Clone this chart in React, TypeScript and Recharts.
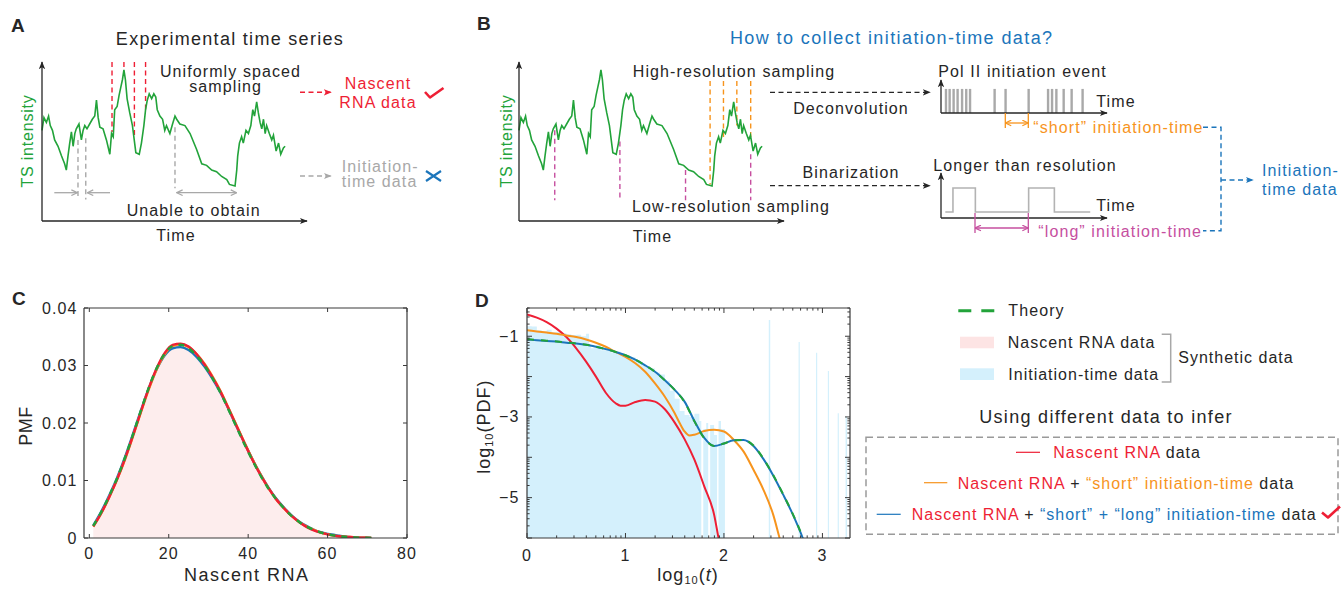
import React from 'react';
import { ComposedChart, LineChart, Line, Area, XAxis, YAxis, ReferenceLine } from 'recharts';

const FONT = '"Liberation Sans", Arial, Helvetica, sans-serif';
const INK = '#262626';
const FRAME = '#3a3a3a';
const RED = '#ee1f35';
const ORANGE = '#f7941d';
const BLUE = '#1b75bb';
const GREEN = '#22a33a';
const MAGENTA = '#c64f9f';
const GRAY = '#a8a8a8';
const SKY = '#d4f0fc';
const PINK = '#fdeded';

// ---- A / B : TS intensity trace ----
const tsTime = [0, 0.8, 1.8, 2.7, 3.4, 4.3, 5.2, 6.6, 8.0, 9.3, 10.0, 10.7, 11.4, 12.1, 12.8, 13.5, 14.1, 15.2, 16.2, 16.9,
  17.6, 18.5, 19.6, 20.7, 21.7, 22.4, 23.1, 23.8, 25.1, 26.5, 27.9, 28.6, 29.3, 29.9, 30.9, 31.7, 32.4, 33.1, 33.7, 34.3,
  35.0, 36.1, 37.2, 38.6, 40.0, 40.9, 41.9, 42.6, 43.3, 44.1, 45.1, 46.0, 46.8, 47.4, 48.5, 49.6, 50.5, 51.2, 52.6, 53.7,
  54.7, 55.4, 56.7, 58.8, 60.9, 63.6, 65.7, 67.7, 69.8, 71.8, 73.9, 76.0, 77.1, 79.4, 80.1, 80.5, 81.2, 82.1, 82.8, 83.9,
  84.9, 85.9, 86.7, 87.4, 88.3, 89.0, 89.7, 90.4, 91.1, 91.8, 92.4, 93.5, 94.5, 95.2, 96.3, 97.3, 98.2, 99.3, 100];
const tsIntensity = [57, 65, 62, 66, 60, 57, 51, 47, 41, 36, 32, 41, 49, 56, 47, 55, 58, 61, 51, 57,
  60, 58, 61, 64, 66, 76, 65, 59, 58, 51, 42, 55, 53, 70, 72, 79, 84, 89, 95, 89,
  77, 68, 60, 43, 42, 49, 60, 70, 76, 80, 77, 80, 78, 70, 66, 64, 57, 60, 55, 61,
  66, 64, 61, 60, 55, 45, 36, 35, 32, 31, 28, 26, 23, 22, 32, 41, 49, 53, 49, 57,
  55, 60, 70, 66, 75, 68, 62, 58, 64, 55, 60, 55, 51, 54, 44, 49, 42, 46, 47];

const sampleTimesA = [28.8, 33.7, 38.0, 42.6];
const sampleLevelsA = [56, 95, 52, 70];
const gapTimesA = [14.8, 18.0, 54.7];
const gapTopsA = [51, 52, 59];
const gapBottomsA = [13.6, 13.6, 20.6];
const highResTimesB = [78.6, 84.1, 89.6, 95.3];
const highResLevelsB = [23, 52, 60, 51];
const lowResTimesB = [14.7, 41.5, 68.5, 95.3];
const lowResLevelsB = [57, 50, 32, 42];

const polIIEvents = [3.0, 5.2, 7.6, 10.0, 12.7, 15.2, 17.5, 32.3, 38.9, 52.8, 64.5, 66.9, 69.5, 73.9, 78.7, 85.3];
const waveTime = [2.6, 7.2, 20.7, 52.8, 68.3, 89.9];
const waveLevel = [1, 5, 1, 5, 1, 1];

// ---- C : PMF of nascent RNA ----
const nascentCount = [1, 3, 5, 7, 9, 11, 13, 15, 17, 19, 21, 23, 25, 27, 29, 31, 33, 35, 37, 39, 41, 43, 45, 47, 49, 51,
  53, 55, 57, 59, 61, 63, 65, 67, 69, 71];
const pmfTheory = [0.0021, 0.0045, 0.0073, 0.0104, 0.014, 0.018, 0.0222, 0.0262, 0.0296, 0.0321, 0.0334, 0.0336, 0.033,
  0.0317, 0.03, 0.0278, 0.0253, 0.0224, 0.0194, 0.0164, 0.0136, 0.011, 0.0087, 0.0068, 0.0052, 0.0038, 0.0027, 0.0019,
  0.0013, 0.0008, 0.0005, 0.0003, 0.0002, 0.0001, 0.00005, 0.00002];
const pmfSynthetic = [0.0022, 0.0046, 0.0074, 0.0105, 0.0141, 0.0181, 0.0223, 0.0263, 0.0297, 0.0322, 0.0335, 0.0337,
  0.0331, 0.0318, 0.0301, 0.0279, 0.0253, 0.0224, 0.0194, 0.0164, 0.0136, 0.011, 0.0087, 0.0068, 0.0052, 0.0038, 0.0027,
  0.0019, 0.0013, 0.0008, 0.0005, 0.0003, 0.0002, 0.0001, 0.00005, 0.00002];
const pmfNascentFit = [0.002, 0.0043, 0.0071, 0.0102, 0.0138, 0.0178, 0.022, 0.0261, 0.0296, 0.0322, 0.0336, 0.0338,
  0.0333, 0.032, 0.0302, 0.028, 0.0255, 0.0226, 0.0196, 0.0166, 0.0137, 0.0111, 0.0088, 0.0068, 0.0052, 0.0038, 0.0027,
  0.0018, 0.0012, 0.0008, 0.0005, 0.0003, 0.0002, 0.0001, 0.00005, 0.00002];
const pmfShortFit = [0.002, 0.0043, 0.0071, 0.0102, 0.0137, 0.0177, 0.0219, 0.0259, 0.0294, 0.032, 0.0334, 0.0337,
  0.0332, 0.032, 0.0303, 0.0281, 0.0256, 0.0227, 0.0197, 0.0167, 0.0138, 0.0112, 0.0088, 0.0068, 0.0052, 0.0038, 0.0027,
  0.0019, 0.0013, 0.0008, 0.0005, 0.0003, 0.0002, 0.0001, 0.00005, 0.00002];
const pmfFullFit = [0.0022, 0.0046, 0.0074, 0.0105, 0.0141, 0.0181, 0.0222, 0.0261, 0.0294, 0.0318, 0.033, 0.0332,
  0.0327, 0.0315, 0.0298, 0.0277, 0.0253, 0.0225, 0.0195, 0.0166, 0.0138, 0.0112, 0.0089, 0.0069, 0.0053, 0.0039, 0.0028,
  0.002, 0.0013, 0.0009, 0.0006, 0.0004, 0.0002, 0.0001, 0.00006, 0.00003];
const pmfXTicks = [0, 20, 40, 60, 80];
const pmfYTicks = [0, 0.01, 0.02, 0.03, 0.04];

// ---- D : log10 PDF of initiation time ----
const histLogT = [0, 0.05, 0.1, 0.15, 0.2, 0.25, 0.3, 0.35, 0.4, 0.45, 0.5, 0.55, 0.6, 0.63, 0.65, 0.7, 0.75, 0.8, 0.85, 0.9,
  0.95, 1.0, 1.05, 1.1, 1.15, 1.2, 1.25, 1.3, 1.35, 1.4, 1.45, 1.5, 1.55, 1.6, 1.65, 1.7, 1.75, 1.77, 1.79, 1.82,
  1.84, 1.86, 1.9, 1.93, 1.945, 1.97, 2.01, 2.455, 2.47, 2.758, 2.77, 2.935, 2.947, 3.055, 3.067, 3.155, 3.167, 3.235, 3.25, 3.28];
const histLogPdf = [-0.75, -0.76, -0.85, -0.88, -0.84, -0.9, -0.89, -0.92, -0.95, -0.97, -0.96, -1.0, -0.94, -1.2, -1.3, -1.22,
  -1.35, -1.28, -1.4, -1.38, -1.45, -1.5, -1.52, -1.6, -1.68, -1.75, -1.8, -1.9, -1.95, -2.1, -2.35, -2.55, -2.85, -2.95,
  -3.0, -2.92, -3.1, -6, -3.3, -3.15, -6, -3.2, -3.45, -6, -3.1, -3.3, -6, -0.6, -6, -1.14, -6, -1.41, -6, -1.86, -6,
  -2.91, -6, -2.99, -6, -6];
const nascentOnlyT = [0, 0.1, 0.2, 0.3, 0.4, 0.5, 0.6, 0.7, 0.8, 0.9, 0.95, 1.0, 1.1, 1.2, 1.3, 1.4, 1.5, 1.6, 1.7, 1.8, 1.9, 1.945, 1.97];
const nascentOnlyPdf = [-0.46, -0.54, -0.65, -0.81, -1.02, -1.3, -1.63, -2.0, -2.4, -2.66, -2.72, -2.72, -2.63, -2.58, -2.62,
  -2.81, -3.14, -3.55, -4.06, -4.72, -5.42, -6.0, -6.3];
const withShortT = [0, 0.1, 0.2, 0.3, 0.4, 0.5, 0.6, 0.7, 0.8, 0.9, 1.0, 1.1, 1.2, 1.3, 1.4, 1.5, 1.55, 1.6, 1.65, 1.7, 1.8, 1.9,
  2.0, 2.1, 2.2, 2.3, 2.4, 2.5, 2.565, 2.6];
const withShortPdf = [-0.85, -0.88, -0.91, -0.94, -0.98, -1.02, -1.08, -1.16, -1.26, -1.39, -1.51, -1.67, -1.88, -2.17, -2.5,
  -2.91, -3.15, -3.36, -3.46, -3.44, -3.35, -3.32, -3.36, -3.57, -3.86, -4.31, -4.8, -5.42, -6.0, -6.3];
const withLongT = [0, 0.1, 0.2, 0.3, 0.4, 0.5, 0.6, 0.7, 0.8, 0.9, 1.0, 1.1, 1.2, 1.3, 1.4, 1.5, 1.6, 1.7, 1.8, 1.9, 2.0, 2.1,
  2.2, 2.3, 2.4, 2.5, 2.6, 2.7, 2.8, 2.83];
const withLongPdf = [-1.08, -1.1, -1.12, -1.13, -1.16, -1.18, -1.21, -1.26, -1.32, -1.39, -1.47, -1.58, -1.72, -1.88, -2.09,
  -2.33, -2.62, -3.1, -3.52, -3.72, -3.66, -3.58, -3.57, -3.72, -4.04, -4.45, -4.92, -5.42, -6.0, -6.2];
const theoryPdf = [-1.07, -1.09, -1.11, -1.13, -1.15, -1.18, -1.21, -1.26, -1.32, -1.39, -1.47, -1.58, -1.72, -1.88, -2.09,
  -2.33, -2.63, -3.11, -3.53, -3.72, -3.66, -3.58, -3.57, -3.71, -4.03, -4.44, -4.91, -5.41, -5.99, -6.2];
const pdfXMajor = [0, 1, 2, 3];
const pdfYMajor = [-6, -5, -4, -3, -2, -1];
const pdfYLabelled = [-1, -3, -5];
const minorSteps = [2, 3, 4, 5, 6, 7, 8, 9];

const traceRows = tsTime.map((t, i) => ({ t, v: tsIntensity[i] }));
const eventRows = polIIEvents.map((t) => ({ t, v: 0 }));
const waveRows = waveTime.map((t, i) => ({ t, v: waveLevel[i] }));
const pmfRows = nascentCount.map((n, i) => ({
  n, theory: pmfTheory[i], synth: pmfSynthetic[i], nascent: pmfNascentFit[i], short: pmfShortFit[i], full: pmfFullFit[i],
}));
const zip = (xs: number[], ys: number[]) => xs.map((x, i) => ({ x, y: ys[i] }));
const histRows = zip(histLogT, histLogPdf);
const nascentRows = zip(nascentOnlyT, nascentOnlyPdf);
const shortRows = zip(withShortT, withShortPdf);
const longRows = zip(withLongT, withLongPdf);
const theoryRows = zip(withLongT, theoryPdf);

const withMinor = (majors: number[], lo: number, hi: number) => {
  const out = [...majors];
  majors.forEach((k) => minorSteps.forEach((m) => out.push(k + Math.log10(m))));
  return out.filter((v) => v >= lo - 1e-9 && v <= hi + 1e-9).sort((a, b) => a - b);
};
const pdfXTicks = withMinor(pdfXMajor, 0, 3.28);
const pdfYTicks = withMinor(pdfYMajor, -6, -0.3);

type Side = 'left' | 'right' | 'top' | 'bottom';
const frameTick = (side: Side, majors: number[], label: (v: number) => string, gap: number, majorLen = 5, minorLen = 2.6) =>
  (props: any) => {
    const { x, y, payload } = props;
    const v = Number(payload.value);
    const major = majors.some((m) => Math.abs(m - v) < 1e-6);
    const len = major ? majorLen : minorLen;
    const txt = major ? label(v) : '';
    const ts = { fontSize: 16, fill: INK, letterSpacing: 1.1, dominantBaseline: 'central' as const };
    if (side === 'left') {
      return (<g><line x1={x} y1={y} x2={x + len} y2={y} stroke={FRAME} />
        {txt && <text x={x - gap} y={y} textAnchor="end" {...ts}>{txt}</text>}</g>);
    }
    if (side === 'right') return <line x1={x} y1={y} x2={x - len} y2={y} stroke={FRAME} />;
    if (side === 'top') return <line x1={x} y1={y} x2={x} y2={y + len} stroke={FRAME} />;
    return (<g><line x1={x} y1={y} x2={x} y2={y - len} stroke={FRAME} />
      {txt && <text x={x} y={y + gap} textAnchor="middle" {...ts}>{txt}</text>}</g>);
  };
const noLabel = () => '';
// axes get a 1px band (Recharts skips axes of zero size); margins are reduced by 1 to compensate
const frameAxis = { tickSize: 0, tickMargin: 0, tickLine: false, interval: 0 as const, allowDataOverflow: true, axisLine: { stroke: FRAME, strokeWidth: 1.2 } };

function TraceChart({ left, children }: { left: number; children?: React.ReactNode }) {
  return (
    <div style={{ position: 'absolute', left, top: 40 }}>
      <LineChart width={320} height={200} data={traceRows} margin={{ top: 22, right: 13, bottom: 18, left: 41 }}>
        <XAxis dataKey="t" type="number" domain={[0, 109]} height={1} tick={false} tickLine={false}
          axisLine={{ stroke: INK, strokeWidth: 1.3, markerEnd: 'url(#headInk)' }} />
        <YAxis type="number" domain={[0, 100]} width={1} tick={false} tickLine={false}
          axisLine={{ stroke: INK, strokeWidth: 1.3, markerStart: 'url(#headInk)' }} />
        {children}
        <Line dataKey="v" type="linear" stroke={GREEN} strokeWidth={1.6} dot={false} isAnimationActive={false} />
      </LineChart>
    </div>
  );
}

function PmfChart() {
  return (
    <div style={{ position: 'absolute', left: 0, top: 285 }}>
      <ComposedChart width={430} height={304} data={pmfRows} margin={{ top: 22, right: 22, bottom: 50, left: 83 }}>
        <XAxis xAxisId="b" dataKey="n" type="number" domain={[-1.34, 80]} ticks={pmfXTicks} height={1} {...frameAxis}
          tick={frameTick('bottom', pmfXTicks, (v) => String(v), 15.5, 4)} />
        <XAxis xAxisId="t" dataKey="n" orientation="top" type="number" domain={[-1.34, 80]} ticks={pmfXTicks} height={1} {...frameAxis}
          tick={frameTick('top', pmfXTicks, noLabel, 0, 4)} />
        <YAxis yAxisId="l" type="number" domain={[0, 0.04]} ticks={pmfYTicks} width={1} {...frameAxis}
          tick={frameTick('left', pmfYTicks, (v) => (v === 0 ? '0' : v.toFixed(2)), 6.5, 4)} />
        <YAxis yAxisId="r" orientation="right" type="number" domain={[0, 0.04]} ticks={pmfYTicks} width={1} {...frameAxis}
          tick={frameTick('right', pmfYTicks, noLabel, 0, 4)} />
        <Area xAxisId="b" yAxisId="l" dataKey="synth" type="monotone" fill={PINK} fillOpacity={1} stroke="none" isAnimationActive={false} />
        <Line xAxisId="b" yAxisId="l" dataKey="full" type="monotone" stroke={BLUE} strokeWidth={2.4} dot={false} isAnimationActive={false} />
        <Line xAxisId="b" yAxisId="l" dataKey="short" type="monotone" stroke={ORANGE} strokeWidth={2.4} dot={false} isAnimationActive={false} />
        <Line xAxisId="b" yAxisId="l" dataKey="nascent" type="monotone" stroke={RED} strokeWidth={2.4} dot={false} isAnimationActive={false} />
        <Line xAxisId="b" yAxisId="l" dataKey="theory" type="monotone" stroke={GREEN} strokeWidth={2.4} strokeDasharray="6 6" dot={false} isAnimationActive={false} />
        <Line xAxisId="t" yAxisId="r" dataKey="theory" stroke="none" dot={false} activeDot={false} isAnimationActive={false} />
      </ComposedChart>
    </div>
  );
}

function PdfChart() {
  return (
    <div style={{ position: 'absolute', left: 470, top: 285 }}>
      <ComposedChart width={390} height={304} margin={{ top: 22, right: 9, bottom: 50, left: 56 }}>
        <XAxis xAxisId="b" dataKey="x" type="number" domain={[0, 3.28]} ticks={pdfXTicks} height={1} {...frameAxis}
          tick={frameTick('bottom', pdfXMajor, (v) => String(v), 17.5)} />
        <XAxis xAxisId="t" dataKey="x" orientation="top" type="number" domain={[0, 3.28]} ticks={pdfXTicks} height={1} {...frameAxis}
          tick={frameTick('top', pdfXMajor, noLabel, 0)} />
        <YAxis yAxisId="l" type="number" domain={[-6, -0.3]} ticks={pdfYTicks} width={1} {...frameAxis}
          tick={frameTick('left', pdfYMajor, (v) => (pdfYLabelled.includes(v) ? '\u2212' + Math.abs(v) : ''), 7.5)} />
        <YAxis yAxisId="r" orientation="right" type="number" domain={[-6, -0.3]} ticks={pdfYTicks} width={1} {...frameAxis}
          tick={frameTick('right', pdfYMajor, noLabel, 0)} />
        <Area xAxisId="b" yAxisId="l" data={histRows} dataKey="y" type="stepAfter" baseValue={-6} fill={SKY} fillOpacity={1}
          stroke="none" isAnimationActive={false} />
        <Line xAxisId="b" yAxisId="l" data={nascentRows} dataKey="y" type="monotone" stroke={RED} strokeWidth={2} dot={false} isAnimationActive={false} />
        <Line xAxisId="b" yAxisId="l" data={shortRows} dataKey="y" type="monotone" stroke={ORANGE} strokeWidth={2} dot={false} isAnimationActive={false} />
        <Line xAxisId="b" yAxisId="l" data={longRows} dataKey="y" type="monotone" stroke={BLUE} strokeWidth={2} dot={false} isAnimationActive={false} />
        <Line xAxisId="b" yAxisId="l" data={theoryRows} dataKey="y" type="monotone" stroke={GREEN} strokeWidth={2} strokeDasharray="7 7" dot={false} isAnimationActive={false} />
        <Line xAxisId="t" yAxisId="r" data={theoryRows} dataKey="y" stroke="none" dot={false} activeDot={false} isAnimationActive={false} />
      </ComposedChart>
    </div>
  );
}

function EventsChart() {
  return (
    <div style={{ position: 'absolute', left: 900, top: 60 }}>
      <LineChart width={220} height={70} data={eventRows} margin={{ top: 20, right: 13, bottom: 16, left: 40 }}>
        <XAxis dataKey="t" type="number" domain={[0, 100]} height={1} tick={false} tickLine={false}
          axisLine={{ stroke: INK, strokeWidth: 1.3, markerEnd: 'url(#headInk)' }} />
        <YAxis type="number" domain={[0, 1.37]} width={1} tick={false} tickLine={false}
          axisLine={{ stroke: INK, strokeWidth: 1.3, markerStart: 'url(#headInk)' }} />
        {polIIEvents.map((t, i) => (
          <ReferenceLine key={i} segment={[{ x: t, y: 0 }, { x: t, y: 1 }]} stroke="#a9a9a9" strokeWidth={2.4} />
        ))}
        <Line dataKey="v" stroke="none" dot={false} activeDot={false} isAnimationActive={false} />
      </LineChart>
    </div>
  );
}

function WaveChart() {
  return (
    <div style={{ position: 'absolute', left: 900, top: 160 }}>
      <LineChart width={220} height={70} data={waveRows} margin={{ top: 13, right: 13, bottom: 11, left: 40 }}>
        <XAxis dataKey="t" type="number" domain={[0, 100]} height={1} tick={false} tickLine={false}
          axisLine={{ stroke: INK, strokeWidth: 1.3, markerEnd: 'url(#headInk)' }} />
        <YAxis type="number" domain={[0, 7.5]} width={1} tick={false} tickLine={false}
          axisLine={{ stroke: INK, strokeWidth: 1.3, markerStart: 'url(#headInk)' }} />
        <Line dataKey="v" type="stepAfter" stroke="#b3b3b3" strokeWidth={1.6} dot={false} isAnimationActive={false} />
      </LineChart>
    </div>
  );
}

function T({ x, y, children, size = 16, color = INK, anchor = 'middle', ls = 1.1, bold = false, rotate = false }: any) {
  return (
    <text x={x} y={y} fontSize={size} fill={color} textAnchor={anchor} dominantBaseline="central" letterSpacing={ls}
      fontWeight={bold ? 'bold' : 'normal'} transform={rotate ? `rotate(-90 ${x} ${y})` : undefined}>{children}</text>
  );
}

const head = (id: string, color: string) => (
  <marker id={id} viewBox="0 0 10 10" refX={9} refY={5} markerWidth={8} markerHeight={8} markerUnits="userSpaceOnUse" orient="auto-start-reverse">
    <path d="M0,1 L10,5 L0,9 L2.5,5 Z" fill={color} />
  </marker>
);
const chev = (id: string, color: string) => (
  <marker id={id} viewBox="0 0 10 10" refX={9.5} refY={5} markerWidth={7} markerHeight={7} markerUnits="userSpaceOnUse" orient="auto-start-reverse">
    <path d="M1,1 L9.5,5 L1,9" fill="none" stroke={color} strokeWidth={1.8} />
  </marker>
);

function Overlay() {
  const dash = '5 3.5';
  return (
    <svg width={1341} height={589} style={{ position: 'absolute', left: 0, top: 0, pointerEvents: 'none' }}>
      <defs>
        {head('headInk', INK)}{head('headRed', RED)}{head('headGray', GRAY)}{head('headBlue', BLUE)}
        {chev('chevGray', GRAY)}{chev('chevOrange', ORANGE)}{chev('chevMagenta', MAGENTA)}
      </defs>
      {/* panel letters */}
      <T x={11} y={25} size={19} bold ls={0} anchor="start">A</T>
      <T x={477} y={23} size={19} bold ls={0} anchor="start">B</T>
      <T x={12} y={298} size={19} bold ls={0} anchor="start">C</T>
      <T x={475} y={300} size={19} bold ls={0} anchor="start">D</T>

      {/* A */}
      <T x={230} y={38.5} size={18} ls={1.3}>Experimental time series</T>
      <T x={230.5} y={71}>Uniformly spaced</T>
      <T x={225.7} y={86.5}>sampling</T>
      <T x={193.7} y={210}>Unable to obtain</T>
      <T x={176} y={235}>Time</T>
      <T x={27.5} y={141} color={GREEN} ls={0.8} rotate>TS intensity</T>
      <line x1={54.3} y1={192.7} x2={77.3} y2={192.7} stroke={GRAY} strokeWidth={1.3} markerEnd="url(#chevGray)" />
      <line x1={110} y1={192.7} x2={87.3} y2={192.7} stroke={GRAY} strokeWidth={1.3} markerEnd="url(#chevGray)" />
      <line x1={176.7} y1={192.7} x2={236.7} y2={192.7} stroke={GRAY} strokeWidth={1.3} markerStart="url(#chevGray)" markerEnd="url(#chevGray)" />
      <line x1={300} y1={92.3} x2={331} y2={92.3} stroke={RED} strokeWidth={1.4} strokeDasharray={dash} markerEnd="url(#headRed)" />
      <line x1={300} y1={176} x2={331} y2={176} stroke={GRAY} strokeWidth={1.4} strokeDasharray={dash} markerEnd="url(#headGray)" />
      <T x={378} y={83.3} color={RED}>Nascent</T>
      <T x={378} y={102.5} color={RED}>RNA data</T>
      <T x={341.7} y={166} color={GRAY} anchor="start">Initiation-</T>
      <T x={341.7} y={181.5} color={GRAY} anchor="start">time data</T>
      <path d="M425 92 L430 97.5 L443.5 88" fill="none" stroke={RED} strokeWidth={2.6} strokeLinejoin="round" />
      <path d="M426 171 L441 181 M426 181 L441 171" stroke={BLUE} strokeWidth={2.2} />

      {/* B */}
      <T x={891.7} y={38} size={18} ls={1.4} color={BLUE}>How to collect initiation-time data?</T>
      <T x={734} y={71.5}>High-resolution sampling</T>
      <T x={731} y={206.5}>Low-resolution sampling</T>
      <T x={652.5} y={236.5}>Time</T>
      <T x={506} y={141} color={GREEN} ls={0.8} rotate>TS intensity</T>
      <line x1={770} y1={92.3} x2={930} y2={92.3} stroke={INK} strokeWidth={1.2} strokeDasharray={dash} markerEnd="url(#headInk)" />
      <T x={851} y={108}>Deconvolution</T>
      <T x={851} y={172.5}>Binarization</T>
      <line x1={770} y1={185.7} x2={930} y2={185.7} stroke={INK} strokeWidth={1.2} strokeDasharray={dash} markerEnd="url(#headInk)" />
      <T x={938.3} y={71} anchor="start">Pol II  initiation event</T>
      <T x={1116} y={101}>Time</T>
      <path d="M1005.3 113 V128 M1028.3 113 V128" stroke={ORANGE} strokeWidth={1.3} />
      <line x1={1005.3} y1={123} x2={1028.3} y2={123} stroke={ORANGE} strokeWidth={1.3} markerStart="url(#chevOrange)" markerEnd="url(#chevOrange)" />
      <T x={1033.3} y={127} anchor="start" color={ORANGE}>“short” initiation-time</T>
      <T x={933.3} y={165.5} anchor="start">Longer than resolution</T>
      <T x={1116} y={205}>Time</T>
      <path d="M975 213 V233 M1028.3 213 V233" stroke={MAGENTA} strokeWidth={1.3} />
      <line x1={975} y1={228} x2={1028.3} y2={228} stroke={MAGENTA} strokeWidth={1.3} markerStart="url(#chevMagenta)" markerEnd="url(#chevMagenta)" />
      <T x={1038.3} y={231} anchor="start" color={MAGENTA}>“long” initiation-time</T>
      <path d="M1203 127.3 H1221 V230.7 H1203" fill="none" stroke={BLUE} strokeWidth={1.4} strokeDasharray={dash} />
      <line x1={1221} y1={180} x2={1253} y2={180} stroke={BLUE} strokeWidth={1.4} strokeDasharray={dash} markerEnd="url(#headBlue)" />
      <T x={1262} y={170} anchor="start" color={BLUE}>Initiation-</T>
      <T x={1262} y={189} anchor="start" color={BLUE}>time data</T>

      {/* C */}
      <T x={26} y={426} size={18} ls={0.5} rotate>PMF</T>
      <T x={246.7} y={575} size={18} ls={1.5}>Nascent RNA</T>

      {/* D */}
      <T x={484} y={426.7} size={18} ls={1} rotate>log<tspan fontSize={11} dy={5}>10</tspan><tspan dy={-5}>(PDF)</tspan></T>
      <T x={688} y={575} size={18} ls={1}>log<tspan fontSize={11} dy={5}>10</tspan><tspan dy={-5}>(</tspan><tspan fontStyle="italic">t</tspan>)</T>

      {/* legend */}
      <line x1={958.3} y1={310.7} x2={995} y2={310.7} stroke={GREEN} strokeWidth={3} strokeDasharray="13 10" />
      <T x={1008.3} y={310} anchor="start">Theory</T>
      <rect x={960} y={336.7} width={34} height={11.6} fill="#fde4e4" />
      <T x={1007.7} y={342.5} anchor="start" ls={1}>Nascent RNA data</T>
      <rect x={960} y={368.3} width={34} height={11.7} fill={SKY} />
      <T x={1008.3} y={374} anchor="start" ls={1}>Initiation-time data</T>
      <path d="M1161.7 334.3 H1170.7 V382 H1161.7" fill="none" stroke={GRAY} strokeWidth={1.5} />
      <T x={1178.3} y={357} anchor="start" ls={1}>Synthetic data</T>
      <T x={1106} y={417} size={18} ls={1.3}>Using different data to infer</T>
      <rect x={866} y={437.3} width={472} height={97} fill="none" stroke="#9a9a9a" strokeWidth={1.5} strokeDasharray="7 4" />
      <line x1={1016} y1={452.3} x2={1040} y2={452.3} stroke={RED} strokeWidth={1.2} />
      <T x={1053.3} y={452} anchor="start" ls={1}><tspan fill={RED}>Nascent RNA</tspan>{' data'}</T>
      <line x1={924} y1={482.7} x2={947.3} y2={482.7} stroke={ORANGE} strokeWidth={1.2} />
      <T x={957.7} y={483} anchor="start" ls={1}><tspan fill={RED}>Nascent RNA</tspan>{' + '}<tspan fill={ORANGE}>“short” initiation-time</tspan>{' data'}</T>
      <line x1={876.7} y1={514.3} x2={900.7} y2={514.3} stroke={BLUE} strokeWidth={1.2} />
      <T x={911.7} y={514} anchor="start" ls={1}><tspan fill={RED}>Nascent RNA</tspan>{' + '}<tspan fill={BLUE}>“short” + “long” initiation-time</tspan>{' data'}</T>
      <path d="M1322 512.5 L1328 517.5 L1340 506.5" fill="none" stroke={RED} strokeWidth={2.6} strokeLinejoin="round" />
    </svg>
  );
}

export default function App() {
  return (
    <div style={{ position: 'fixed', left: 0, top: 0, width: 1341, height: 589, background: '#fff', overflow: 'hidden', fontFamily: FONT, color: INK }}>
      <TraceChart left={0}>
        {sampleTimesA.map((t, i) => (
          <ReferenceLine key={'s' + i} segment={[{ x: t, y: 100 }, { x: t, y: sampleLevelsA[i] }]} stroke={RED} strokeWidth={1.4} strokeDasharray="5 3.5" />
        ))}
        {gapTimesA.map((t, i) => (
          <ReferenceLine key={'g' + i} segment={[{ x: t, y: gapTopsA[i] }, { x: t, y: gapBottomsA[i] }]} stroke={GRAY} strokeWidth={1.4} strokeDasharray="5 3.5" />
        ))}
      </TraceChart>
      <TraceChart left={477}>
        {highResTimesB.map((t, i) => (
          <ReferenceLine key={'h' + i} segment={[{ x: t, y: 88 }, { x: t, y: highResLevelsB[i] }]} stroke={ORANGE} strokeWidth={1.4} strokeDasharray="5 3.5" />
        ))}
        {lowResTimesB.map((t, i) => (
          <ReferenceLine key={'l' + i} segment={[{ x: t, y: lowResLevelsB[i] }, { x: t, y: 13 }]} stroke={MAGENTA} strokeWidth={1.4} strokeDasharray="5 3.5" />
        ))}
      </TraceChart>
      <EventsChart />
      <WaveChart />
      <PmfChart />
      <PdfChart />
      <Overlay />
    </div>
  );
}
